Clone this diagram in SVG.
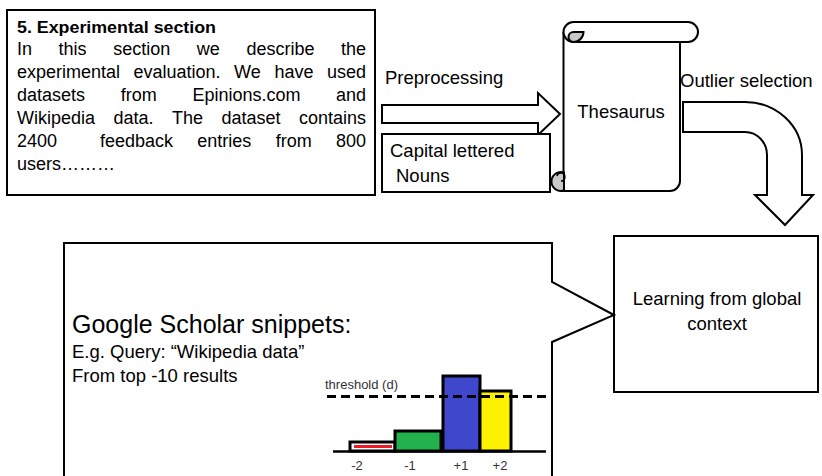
<svg xmlns="http://www.w3.org/2000/svg" width="822" height="476" viewBox="0 0 822 476">
  <style>
    text { font-family: "Liberation Sans", Arial, sans-serif; fill: #000; }
    .body { font-size: 18px; }
    .lbl { font-size: 18.5px; }
    .small { font-size: 13px; fill: #333; }
    .shape { fill: #fff; stroke: #000; stroke-width: 2; stroke-linejoin: miter; }
    .curl { fill: #c8c8c8; stroke: #000; stroke-width: 2; }
    .bar { stroke: #000; stroke-width: 3; }
  </style>

  <!-- connectors: block arrows and callout pointer -->
  <g id="connectors">
    <path id="arrow-preprocessing" class="shape" d="M382,105 H538 V93 L560,114 L538,135 V123 H382 Z"/>
    <path id="arrow-outlier" class="shape" d="M683,102 H745 A57,53 0 0 1 802,155 V195 H813 L785,225 L755,195 H767 V155 A22,23 0 0 0 745,132 H683 Z"/>
  </g>

  <!-- paper excerpt -->
  <g id="node-excerpt">
    <rect x="7" y="10" width="368" height="185" class="shape" stroke-width="2.5"/>
    <text x="17" y="33" font-size="16.5" font-weight="bold" textLength="199" lengthAdjust="spacingAndGlyphs">5. Experimental section</text>
    <g class="body">
      <text x="17" y="55">In</text>
      <text x="58.6" y="55">this</text>
      <text x="113.2" y="55">section</text>
      <text x="196.8" y="55">we</text>
      <text x="246.4" y="55">describe</text>
      <text x="366" y="55" text-anchor="end">the</text>

      <text x="17" y="78">experimental</text>
      <text x="133.5" y="78">evaluation.</text>
      <text x="234" y="78">We</text>
      <text x="274.5" y="78">have</text>
      <text x="366" y="78" text-anchor="end">used</text>

      <text x="17" y="101">datasets</text>
      <text x="120.7" y="101">from</text>
      <text x="192.4" y="101">Epinions.com</text>
      <text x="366" y="101" text-anchor="end">and</text>

      <text x="17" y="124">Wikipedia</text>
      <text x="113.5" y="124">data.</text>
      <text x="172" y="124">The</text>
      <text x="221.5" y="124">dataset</text>
      <text x="366" y="124" text-anchor="end">contains</text>

      <text x="17" y="147">2400</text>
      <text x="100" y="147">feedback</text>
      <text x="197.3" y="147">entries</text>
      <text x="275.7" y="147">from</text>
      <text x="366" y="147" text-anchor="end">800</text>

      <text x="17" y="170">users………</text>
    </g>
  </g>

  <text x="385" y="84" class="lbl">Preprocessing</text>

  <!-- capital lettered nouns -->
  <g id="node-nouns">
    <rect x="382" y="134" width="168" height="58" class="shape"/>
    <text x="390" y="157" class="lbl">Capital lettered</text>
    <text x="396" y="182" class="lbl">Nouns</text>
  </g>

  <!-- thesaurus scroll -->
  <g id="node-thesaurus">
    <path class="shape" d="M563.5,32 V191 H670 A10,10 0 0 0 680,181 V42"/>
    <path class="shape" d="M573.5,22 H688 A10,10 0 0 1 688,42 H573.5 A10,10 0 0 1 573.5,22 Z"/>
    <path class="curl" d="M573.5,32 H583.5 A10,10 0 0 1 573.5,42 A5,5 0 0 1 573.5,32 Z"/>
    <path class="curl" d="M564,172.5 A9.5,9.5 0 1 0 564,190.5 Z"/>
    <path d="M557,176 A4,4 0 1 1 561,181 H564" fill="none" stroke="#000" stroke-width="1.5"/>
    <text x="621" y="118" class="lbl" text-anchor="middle">Thesaurus</text>
  </g>

  <text x="680" y="87" class="lbl" font-size="19">Outlier selection</text>

  <!-- learning from global context -->
  <g id="node-learning">
    <rect x="614" y="236" width="204" height="156" class="shape"/>
    <text x="717" y="305" class="lbl" text-anchor="middle">Learning from global</text>
    <text x="717" y="330" class="lbl" text-anchor="middle">context</text>
  </g>

  <!-- Google Scholar callout with histogram -->
  <g id="node-scholar">
    <path class="shape" d="M64,482 V243 H552 V282 L614,315 L552,342 V482 Z"/>
    <text x="72" y="333" font-size="25">Google Scholar snippets:</text>
    <text x="72" y="358" class="lbl">E.g. Query: “Wikipedia data”</text>
    <text x="72" y="382" class="lbl">From top -10 results</text>

    <g id="histogram">
      <rect x="350" y="442" width="45" height="9" class="bar" fill="#fff"/>
      <line x1="354" y1="446.5" x2="392" y2="446.5" stroke="#ed1c24" stroke-width="3"/>
      <rect x="395" y="431" width="46" height="20" class="bar" fill="#22b14c"/>
      <rect x="443" y="376" width="37" height="75" class="bar" fill="#3f48cc"/>
      <rect x="480" y="391" width="31" height="60" class="bar" fill="#fff200"/>
      <line x1="333" y1="451.5" x2="546" y2="451.5" stroke="#000" stroke-width="2.5"/>
      <line x1="327" y1="396.5" x2="546" y2="396.5" stroke="#000" stroke-width="3" stroke-dasharray="9 5"/>
      <text x="325" y="389" class="small" font-size="13.5">threshold (d)</text>
      <text x="357" y="470" class="small" text-anchor="middle" font-size="12">-2</text>
      <text x="410" y="470" class="small" text-anchor="middle" font-size="12">-1</text>
      <text x="461" y="470" class="small" text-anchor="middle" font-size="12">+1</text>
      <text x="500" y="470" class="small" text-anchor="middle" font-size="12">+2</text>
    </g>
  </g>
</svg>
